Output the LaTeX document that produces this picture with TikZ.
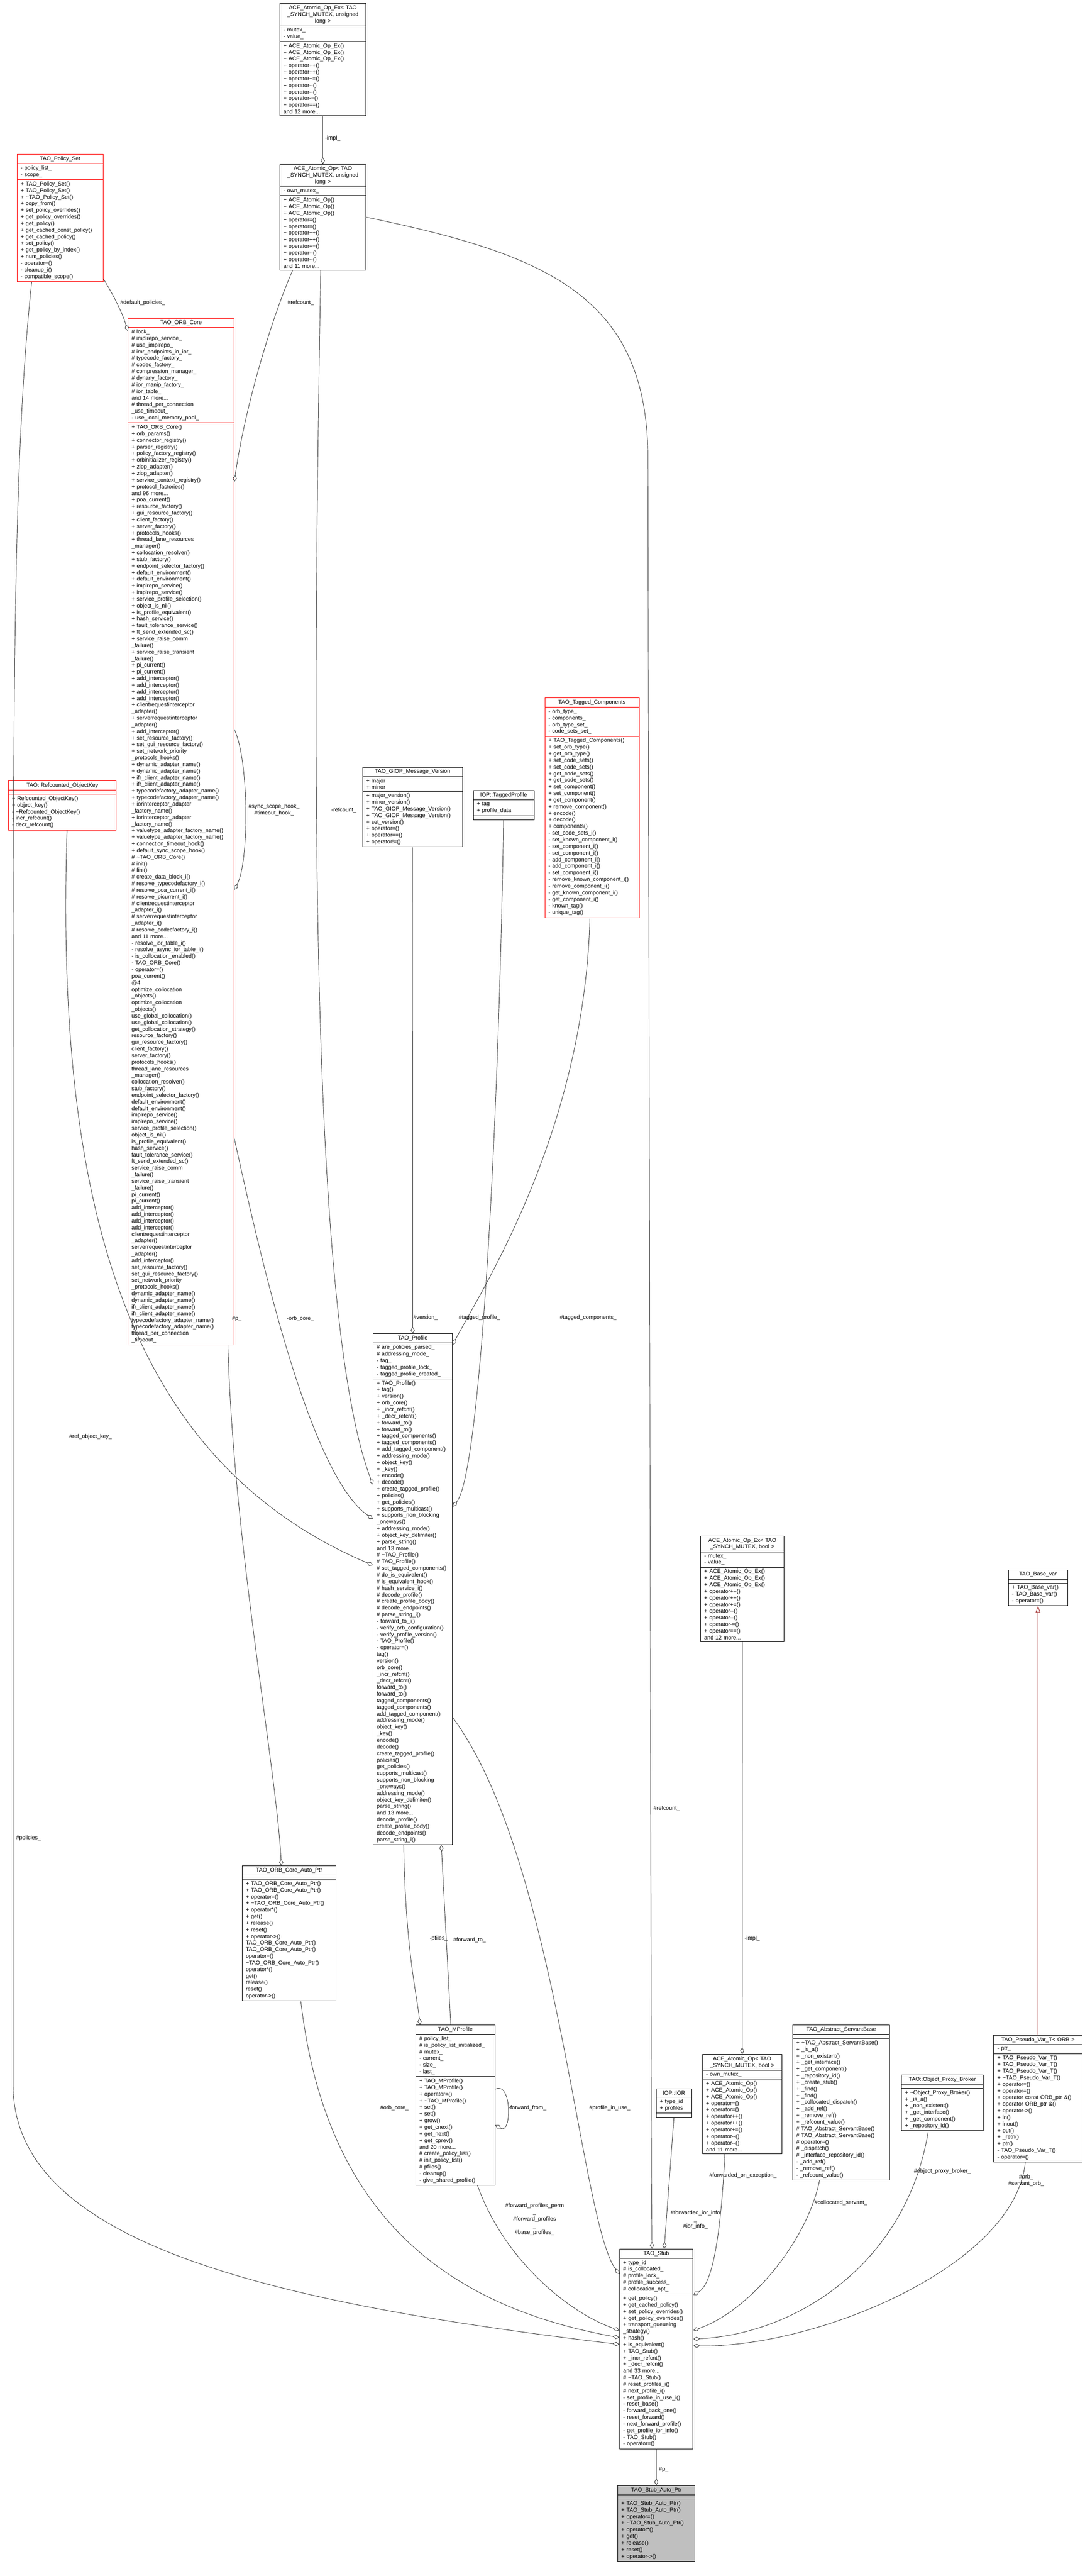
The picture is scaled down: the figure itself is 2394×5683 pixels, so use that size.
\documentclass[tikz,border=0pt]{standalone}
\usepackage{fontspec}
\newfontfamily\dox{Liberation Sans}
\usetikzlibrary{shapes.multipart,arrows.meta,calc}
\newcommand\tld{\textasciitilde}
\newcommand\ttl[1]{\hfill#1\hfill\null}
\definecolor{edgegray}{HTML}{404040}
\definecolor{inhred}{HTML}{9A1C1C}
\tikzset{
  cls/.style={rectangle split, rectangle split parts=3, draw=black, anchor=north west,
    inner xsep=0.08cm, inner ysep=0.04cm, align=left, fill=white,
    font=\dox\fontsize{3.5}{4.15}\selectfont},
  redcls/.style={cls, draw=red},
  lbl/.style={inner sep=0pt, align=center, font=\dox\fontsize{3.5}{4.15}\selectfont},
  aggr/.style={draw=edgegray, -{Diamond[open,length=0.15cm,width=0.09cm]}},
  inh/.style={draw=inhred, -{Triangle[open,length=0.14cm,width=0.1cm]}}
}
\begin{document}
\catcode`\_=12
\begin{tikzpicture}[x=0.01cm, y=-0.01cm, line width=0.3pt]
  \useasboundingbox (0,0) rectangle (2394,5683);

  % Atomic ops (long)
  \node[cls, text width=1.74cm] (opexl) at (617,7) {\ttl{ACE_Atomic_Op_Ex< TAO}\\\ttl{_SYNCH_MUTEX, unsigned}\\\ttl{long >}
    \nodepart{two}- mutex_\\- value_
    \nodepart{three}+ ACE_Atomic_Op_Ex()\\+ ACE_Atomic_Op_Ex()\\+ ACE_Atomic_Op_Ex()\\+ operator++()\\+ operator++()\\+ operator+=()\\+ operator-{}-()\\+ operator-{}-()\\+ operator-=()\\+ operator==()\\and 12 more...};
  \node[cls, text width=1.74cm] (opl) at (617,362) {\ttl{ACE_Atomic_Op< TAO}\\\ttl{_SYNCH_MUTEX, unsigned}\\\ttl{long >}
    \nodepart{two}- own_mutex_
    \nodepart{three}+ ACE_Atomic_Op()\\+ ACE_Atomic_Op()\\+ ACE_Atomic_Op()\\+ operator=()\\+ operator=()\\+ operator++()\\+ operator++()\\+ operator+=()\\+ operator-{}-()\\+ operator-{}-()\\and 11 more...};

  % Policy set
  \node[redcls, text width=1.74cm] (pset) at (37,340) {\ttl{TAO_Policy_Set}
    \nodepart{two}- policy_list_\\- scope_
    \nodepart{three}+ TAO_Policy_Set()\\+ TAO_Policy_Set()\\+ \tld TAO_Policy_Set()\\+ copy_from()\\+ set_policy_overrides()\\+ get_policy_overrides()\\+ get_policy()\\+ get_cached_const_policy()\\+ get_cached_policy()\\+ set_policy()\\+ get_policy_by_index()\\+ num_policies()\\- operator=()\\- cleanup_i()\\- compatible_scope()};

  % ORB core
  \node[redcls, text width=2.18cm] (core) at (282,702) {\ttl{TAO_ORB_Core}
    \nodepart{two}\# lock_\\\# implrepo_service_\\\# use_implrepo_\\\# imr_endpoints_in_ior_\\\# typecode_factory_\\\# codec_factory_\\\# compression_manager_\\\# dynany_factory_\\\# ior_manip_factory_\\\# ior_table_\\and 14 more...\\\# thread_per_connection\\_use_timeout_\\- use_local_memory_pool_
    \nodepart{three}+ TAO_ORB_Core()\\+ orb_params()\\+ connector_registry()\\+ parser_registry()\\+ policy_factory_registry()\\+ orbinitializer_registry()\\+ ziop_adapter()\\+ ziop_adapter()\\+ service_context_registry()\\+ protocol_factories()\\and 96 more...\\+ poa_current()\\+ resource_factory()\\+ gui_resource_factory()\\+ client_factory()\\+ server_factory()\\+ protocols_hooks()\\+ thread_lane_resources\\_manager()\\+ collocation_resolver()\\+ stub_factory()\\+ endpoint_selector_factory()\\+ default_environment()\\+ default_environment()\\+ implrepo_service()\\+ implrepo_service()\\+ service_profile_selection()\\+ object_is_nil()\\+ is_profile_equivalent()\\+ hash_service()\\+ fault_tolerance_service()\\+ ft_send_extended_sc()\\+ service_raise_comm\\_failure()\\+ service_raise_transient\\_failure()\\+ pi_current()\\+ pi_current()\\+ add_interceptor()\\+ add_interceptor()\\+ add_interceptor()\\+ add_interceptor()\\+ clientrequestinterceptor\\_adapter()\\+ serverrequestinterceptor\\_adapter()\\+ add_interceptor()\\+ set_resource_factory()\\+ set_gui_resource_factory()\\+ set_network_priority\\_protocols_hooks()\\+ dynamic_adapter_name()\\+ dynamic_adapter_name()\\+ ifr_client_adapter_name()\\+ ifr_client_adapter_name()\\+ typecodefactory_adapter_name()\\+ typecodefactory_adapter_name()\\+ iorinterceptor_adapter\\_factory_name()\\+ iorinterceptor_adapter\\_factory_name()\\+ valuetype_adapter_factory_name()\\+ valuetype_adapter_factory_name()\\+ connection_timeout_hook()\\+ default_sync_scope_hook()\\\# \tld TAO_ORB_Core()\\\# init()\\\# fini()\\\# create_data_block_i()\\\# resolve_typecodefactory_i()\\\# resolve_poa_current_i()\\\# resolve_picurrent_i()\\\# clientrequestinterceptor\\_adapter_i()\\\# serverrequestinterceptor\\_adapter_i()\\\# resolve_codecfactory_i()\\and 11 more...\\- resolve_ior_table_i()\\- resolve_async_ior_table_i()\\- is_collocation_enabled()\\- TAO_ORB_Core()\\- operator=()\\* poa_current()\\* @4\\* optimize_collocation\\_objects()\\* optimize_collocation\\_objects()\\* use_global_collocation()\\* use_global_collocation()\\* get_collocation_strategy()\\* resource_factory()\\* gui_resource_factory()\\* client_factory()\\* server_factory()\\* protocols_hooks()\\* thread_lane_resources\\_manager()\\* collocation_resolver()\\* stub_factory()\\* endpoint_selector_factory()\\* default_environment()\\* default_environment()\\* implrepo_service()\\* implrepo_service()\\* service_profile_selection()\\* object_is_nil()\\* is_profile_equivalent()\\* hash_service()\\* fault_tolerance_service()\\* ft_send_extended_sc()\\* service_raise_comm\\_failure()\\* service_raise_transient\\_failure()\\* pi_current()\\* pi_current()\\* add_interceptor()\\* add_interceptor()\\* add_interceptor()\\* add_interceptor()\\* clientrequestinterceptor\\_adapter()\\* serverrequestinterceptor\\_adapter()\\* add_interceptor()\\* set_resource_factory()\\* set_gui_resource_factory()\\* set_network_priority\\_protocols_hooks()\\* dynamic_adapter_name()\\* dynamic_adapter_name()\\* ifr_client_adapter_name()\\* ifr_client_adapter_name()\\* typecodefactory_adapter_name()\\* typecodefactory_adapter_name()\\* thread_per_connection\\_timeout_};

  % Object key, version, tagged things
  \node[redcls, text width=2.22cm] (rok) at (18,1722) {\ttl{TAO::Refcounted_ObjectKey}
    \nodepart{two}\mbox{}
    \nodepart{three}+ Refcounted_ObjectKey()\\+ object_key()\\- \tld Refcounted_ObjectKey()\\- incr_refcount()\\- decr_refcount()};
  \node[cls, text width=2.04cm] (giop) at (800,1692) {\ttl{TAO_GIOP_Message_Version}
    \nodepart{two}+ major\\+ minor
    \nodepart{three}+ major_version()\\+ minor_version()\\+ TAO_GIOP_Message_Version()\\+ TAO_GIOP_Message_Version()\\+ set_version()\\+ operator=()\\+ operator==()\\+ operator!=()};
  \node[cls, text width=1.18cm] (tprof) at (1044,1744) {\ttl{IOP::TaggedProfile}
    \nodepart{two}+ tag\\+ profile_data
    \nodepart{three}\mbox{}};
  \node[redcls, text width=1.92cm] (tcomp) at (1202,1539) {\ttl{TAO_Tagged_Components}
    \nodepart{two}- orb_type_\\- components_\\- orb_type_set_\\- code_sets_set_
    \nodepart{three}+ TAO_Tagged_Components()\\+ set_orb_type()\\+ get_orb_type()\\+ set_code_sets()\\+ set_code_sets()\\+ get_code_sets()\\+ get_code_sets()\\+ set_component()\\+ set_component()\\+ get_component()\\+ remove_component()\\+ encode()\\+ decode()\\+ components()\\- set_code_sets_i()\\- set_known_component_i()\\- set_component_i()\\- set_component_i()\\- add_component_i()\\- add_component_i()\\- set_component_i()\\- remove_known_component_i()\\- remove_component_i()\\- get_known_component_i()\\- get_component_i()\\- known_tag()\\- unique_tag()};

  % Profile
  \node[cls, text width=1.59cm] (prof) at (823,2942) {\ttl{TAO_Profile}
    \nodepart{two}\# are_policies_parsed_\\\# addressing_mode_\\- tag_\\- tagged_profile_lock_\\- tagged_profile_created_
    \nodepart{three}+ TAO_Profile()\\+ tag()\\+ version()\\+ orb_core()\\+ _incr_refcnt()\\+ _decr_refcnt()\\+ forward_to()\\+ forward_to()\\+ tagged_components()\\+ tagged_components()\\+ add_tagged_component()\\+ addressing_mode()\\+ object_key()\\+ _key()\\+ encode()\\+ decode()\\+ create_tagged_profile()\\+ policies()\\+ get_policies()\\+ supports_multicast()\\+ supports_non_blocking\\_oneways()\\+ addressing_mode()\\+ object_key_delimiter()\\+ parse_string()\\and 13 more...\\\# \tld TAO_Profile()\\\# TAO_Profile()\\\# set_tagged_components()\\\# do_is_equivalent()\\\# is_equivalent_hook()\\\# hash_service_i()\\\# decode_profile()\\\# create_profile_body()\\\# decode_endpoints()\\\# parse_string_i()\\- forward_to_i()\\- verify_orb_configuration()\\- verify_profile_version()\\- TAO_Profile()\\- operator=()\\* tag()\\* version()\\* orb_core()\\* _incr_refcnt()\\* _decr_refcnt()\\* forward_to()\\* forward_to()\\* tagged_components()\\* tagged_components()\\* add_tagged_component()\\* addressing_mode()\\* object_key()\\* _key()\\* encode()\\* decode()\\* create_tagged_profile()\\* policies()\\* get_policies()\\* supports_multicast()\\* supports_non_blocking\\_oneways()\\* addressing_mode()\\* object_key_delimiter()\\* parse_string()\\and 13 more...\\* decode_profile()\\* create_profile_body()\\* decode_endpoints()\\* parse_string_i()};

  % Auto pointers and multi profile
  \node[cls, text width=1.91cm] (coreptr) at (534,4116) {\ttl{TAO_ORB_Core_Auto_Ptr}
    \nodepart{two}\mbox{}
    \nodepart{three}+ TAO_ORB_Core_Auto_Ptr()\\+ TAO_ORB_Core_Auto_Ptr()\\+ operator=()\\+ \tld TAO_ORB_Core_Auto_Ptr()\\+ operator*()\\+ get()\\+ release()\\+ reset()\\+ operator->()\\* TAO_ORB_Core_Auto_Ptr()\\* TAO_ORB_Core_Auto_Ptr()\\* operator=()\\* \tld TAO_ORB_Core_Auto_Ptr()\\* operator*()\\* get()\\* release()\\* reset()\\* operator->()};
  \node[cls, text width=1.59cm] (mprof) at (917,4467) {\ttl{TAO_MProfile}
    \nodepart{two}\# policy_list_\\\# is_policy_list_initialized_\\\# mutex_\\- current_\\- size_\\- last_
    \nodepart{three}+ TAO_MProfile()\\+ TAO_MProfile()\\+ operator=()\\+ \tld TAO_MProfile()\\+ set()\\+ set()\\+ grow()\\+ get_cnext()\\+ get_next()\\+ get_cprev()\\and 20 more...\\\# create_policy_list()\\\# init_policy_list()\\\# pfiles()\\- cleanup()\\- give_shared_profile()};
  \node[cls, text width=0.62cm] (ior) at (1448,4608) {\ttl{IOP::IOR}
    \nodepart{two}+ type_id\\+ profiles
    \nodepart{three}\mbox{}};

  % Right hand side
  \node[cls, text width=1.68cm] (opexb) at (1546,3388) {\ttl{ACE_Atomic_Op_Ex< TAO}\\\ttl{_SYNCH_MUTEX, bool >}
    \nodepart{two}- mutex_\\- value_
    \nodepart{three}+ ACE_Atomic_Op_Ex()\\+ ACE_Atomic_Op_Ex()\\+ ACE_Atomic_Op_Ex()\\+ operator++()\\+ operator++()\\+ operator+=()\\+ operator-{}-()\\+ operator-{}-()\\+ operator-=()\\+ operator==()\\and 12 more...};
  \node[cls, text width=1.59cm] (opb) at (1550,4532) {\ttl{ACE_Atomic_Op< TAO}\\\ttl{_SYNCH_MUTEX, bool >}
    \nodepart{two}- own_mutex_
    \nodepart{three}+ ACE_Atomic_Op()\\+ ACE_Atomic_Op()\\+ ACE_Atomic_Op()\\+ operator=()\\+ operator=()\\+ operator++()\\+ operator++()\\+ operator+=()\\+ operator-{}-()\\+ operator-{}-()\\and 11 more...};
  \node[cls, text width=1.98cm] (asb) at (1749,4467) {\ttl{TAO_Abstract_ServantBase}
    \nodepart{two}\mbox{}
    \nodepart{three}+ \tld TAO_Abstract_ServantBase()\\+ _is_a()\\+ _non_existent()\\+ _get_interface()\\+ _get_component()\\+ _repository_id()\\+ _create_stub()\\+ _find()\\+ _find()\\+ _collocated_dispatch()\\+ _add_ref()\\+ _remove_ref()\\+ _refcount_value()\\\# TAO_Abstract_ServantBase()\\\# TAO_Abstract_ServantBase()\\\# operator=()\\\# _dispatch()\\\# _interface_repository_id()\\- _add_ref()\\- _remove_ref()\\- _refcount_value()};
  \node[cls, text width=1.65cm] (proxy) at (1989,4577) {\ttl{TAO::Object_Proxy_Broker}
    \nodepart{two}\mbox{}
    \nodepart{three}+ \tld Object_Proxy_Broker()\\+ _is_a()\\+ _non_existent()\\+ _get_interface()\\+ _get_component()\\+ _repository_id()};
  \node[cls, text width=1.15cm] (basevar) at (2225,3463) {\ttl{TAO_Base_var}
    \nodepart{two}\mbox{}
    \nodepart{three}+ TAO_Base_var()\\- TAO_Base_var()\\- operator=()};
  \node[cls, text width=1.79cm] (pvar) at (2193,4490) {\ttl{TAO_Pseudo_Var_T< ORB >}
    \nodepart{two}- ptr_
    \nodepart{three}+ TAO_Pseudo_Var_T()\\+ TAO_Pseudo_Var_T()\\+ TAO_Pseudo_Var_T()\\+ \tld TAO_Pseudo_Var_T()\\+ operator=()\\+ operator=()\\+ operator const ORB_ptr \&()\\+ operator ORB_ptr \&()\\+ operator->()\\+ in()\\+ inout()\\+ out()\\+ _retn()\\+ ptr()\\- TAO_Pseudo_Var_T()\\- operator=()};

  % Stub
  \node[cls, text width=1.46cm] (stub) at (1367,4961) {\ttl{TAO_Stub}
    \nodepart{two}+ type_id\\\# is_collocated_\\\# profile_lock_\\\# profile_success_\\\# collocation_opt_
    \nodepart{three}+ get_policy()\\+ get_cached_policy()\\+ set_policy_overrides()\\+ get_policy_overrides()\\+ transport_queueing\\_strategy()\\+ hash()\\+ is_equivalent()\\+ TAO_Stub()\\+ _incr_refcnt()\\+ _decr_refcnt()\\and 33 more...\\\# \tld TAO_Stub()\\\# reset_profiles_i()\\\# next_profile_i()\\- set_profile_in_use_i()\\- reset_base()\\- forward_back_one()\\- reset_forward()\\- next_forward_profile()\\- get_profile_ior_info()\\- TAO_Stub()\\- operator=()};
  \node[cls, text width=1.54cm, fill=gray!50] (stubptr) at (1363,5483) {\ttl{TAO_Stub_Auto_Ptr}
    \nodepart{two}\mbox{}
    \nodepart{three}+ TAO_Stub_Auto_Ptr()\\+ TAO_Stub_Auto_Ptr()\\+ operator=()\\+ \tld TAO_Stub_Auto_Ptr()\\+ operator*()\\+ get()\\+ release()\\+ reset()\\+ operator->()};

  % Connectors, upper part
  \draw[aggr] (opexl) -- (opl);
  \draw[aggr] ($(pset.north east)+(0,275)$) .. controls (250,650) and (270,690) .. ($(core.north west)+(0,28)$);
  \draw[aggr] ($(opl.south west)+(29,0)$) .. controls (600,700) and (540,900) .. ($(core.north east)+(0,361)$);
  \draw[aggr] ($(core.north east)+(0,907)$) .. controls (550,1680) and (550,1900) .. ($(core.north east)+(0,1261)$);
  \draw[aggr] ($(core.north east)+(0,1810)$) .. controls (570,2750) and (680,3250) .. ($(prof.north west)+(0,409)$);
  \draw[aggr] ($(opl.south west)+(91,0)$) .. controls (690,1600) and (680,2900) .. ($(prof.north west)+(0,333)$);
  \draw[aggr] ($(rok.south west)+(130,0)$) .. controls (120,2700) and (300,3230) .. ($(prof.north west)+(0,511)$);
  \draw[aggr] (giop) -- (prof);
  \draw[aggr] (tprof.south) .. controls (1100,2500) and (1060,3250) .. ($(prof.north east)+(0,382)$);
  \draw[aggr] ($(tcomp.south west)+(100,0)$) .. controls (1290,2500) and (1060,2850) .. ($(prof.north east)+(0,25)$);
  \draw[aggr] ($(core.south west)+(221,0)$) .. controls (515,3400) and (610,3900) .. ($(coreptr.north west)+(87,0)$);

  % Connectors, lower part
  \draw[aggr] ($(prof.south west)+(68,0)$) .. controls (895,4300) and (920,4400) .. ($(mprof.north west)+(10,0)$);
  \draw[aggr] ($(mprof.north west)+(78,0)$) -- ($(prof.south west)+(151,0)$);
  \draw[aggr] ($(mprof.north east)+(0,142)$) .. controls (1130,4590) and (1130,4710) .. ($(mprof.north east)+(0,221)$);
  \draw[aggr] ($(mprof.south west)+(137,0)$) .. controls (1110,4980) and (1250,5100) .. ($(stub.north west)+(0,180)$);
  \draw[aggr] ($(prof.north east)+(0,847)$) .. controls (1230,4100) and (1280,4900) .. ($(stub.north west)+(0,56)$);
  \draw[aggr] ($(coreptr.south west)+(130,0)$) .. controls (720,4900) and (1000,5090) .. ($(stub.north west)+(0,196)$);
  \draw[aggr] ($(pset.south west)+(33,0)$) .. controls (30,1000) and (29,1500) .. (29,2500) -- (29,4600) .. controls (29,4950) and (600,5080) .. ($(stub.north west)+(0,211)$);
  \draw[aggr] (opl.east) .. controls (1200,560) and (1425,650) .. (1430,1000) -- (1438,4800) -- ($(stub.north west)+(72,0)$);
  \draw[aggr] (ior.south) -- ($(stub.north west)+(99,0)$);
  \draw[aggr] ($(opb.south west)+(50,0)$) .. controls (1590,4950) and (1570,5040) .. ($(stub.north east)+(0,102)$);
  \draw[aggr] ($(asb.south west)+(60,0)$) .. controls (1780,4950) and (1650,5100) .. ($(stub.north east)+(0,180)$);
  \draw[aggr] ($(proxy.south west)+(60,0)$) .. controls (2000,5000) and (1750,5150) .. ($(stub.north east)+(0,199)$);
  \draw[aggr] ($(pvar.south west)+(70,0)$) .. controls (2240,5000) and (1800,5180) .. ($(stub.north east)+(0,214)$);
  \draw[aggr] (opexb.south) -- (opb.north);
  \draw[inh] (pvar) -- (basevar);
  \draw[aggr] (stub) -- (stubptr);

  % Labels
  \node[lbl, anchor=west] (l1) at (717,305) {-impl_};
  \node[lbl, anchor=west] (l2) at (265,668) {\#default_policies_};
  \node[lbl, anchor=west] (l3) at (634,668) {\#refcount_};
  \node[lbl] (l4) at (605,1787) {\#sync_scope_hook_\\\#timeout_hook_};
  \node[lbl] (l5) at (759,1788) {-refcount_};
  \node[lbl] (l6) at (663,2909) {-orb_core_};
  \node[lbl, anchor=west] (l7) at (512,2909) {\#p_};
  \node[lbl] (l8) at (200,3170) {\#ref_object_key_};
  \node[lbl, anchor=west] (l9) at (912,2907) {\#version_};
  \node[lbl, anchor=west] (l10) at (1012,2907) {\#tagged_profile_};
  \node[lbl, anchor=west] (l11) at (1235,2907) {\#tagged_components_};
  \node[lbl, anchor=west] (l12) at (948,4277) {-pfiles_};
  \node[lbl, anchor=west] (l13) at (1000,4280) {\#forward_to_};
  \node[lbl, anchor=west] (l14) at (1122,4650) {-forward_from_};
  \node[lbl] (l15) at (1346,4650) {\#profile_in_use_};
  \node[lbl, anchor=west] (l16) at (839,4650) {\#orb_core_};
  \node[lbl] (l17) at (1180,4896) {\#forward_profiles_perm\\_\\\#forward_profiles\\_\\\#base_profiles_};
  \node[lbl, anchor=west] (l18) at (35,4055) {\#policies_};
  \node[lbl, anchor=west] (l19) at (1442,3990) {\#refcount_};
  \node[lbl] (l20) at (1535,4897) {\#forwarded_ior_info\\_\\\#ior_info_};
  \node[lbl, anchor=west] (l21) at (1643,4277) {-impl_};
  \node[lbl, anchor=west] (l22) at (1454,5449) {\#p_};
  \node[lbl] (l23) at (1640,4800) {\#forwarded_on_exception_};
  \node[lbl] (l24) at (1856,4860) {\#collocated_servant_};
  \node[lbl] (l25) at (2080,4790) {\#object_proxy_broker_};
  \node[lbl] (l26) at (2265,4810) {\#orb_\\\#servant_orb_};
\end{tikzpicture}
\end{document}
